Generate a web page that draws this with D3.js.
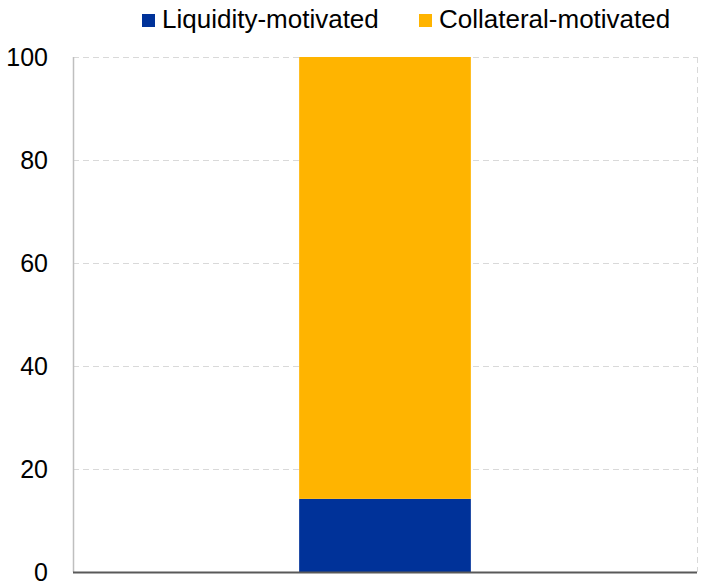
<!DOCTYPE html>
<html><head><meta charset="utf-8">
<script src="https://cdn.jsdelivr.net/npm/d3@7"></script>
<style>body{margin:0;background:#fff}svg{display:block}</style>
</head><body>
<script>
const categories = [""];
const seriesNames = ["Liquidity-motivated", "Collateral-motivated"];
const liquidity = [14.2];
const collateral = [85.8];
const yTicks = [0, 20, 40, 60, 80, 100];
const colors = ["#003299", "#FFB400"];

const W = 702, H = 585;
const m = {left: 73, right: 5, top: 57, bottom: 13};
const svg = d3.select("body").append("svg").attr("width", W).attr("height", H);
const font = "Arial, 'Liberation Sans', sans-serif";

const x = d3.scaleBand().domain(categories).range([m.left, W - m.right]).paddingInner(0).paddingOuter(1.317);
const y = d3.scaleLinear().domain([0, 100]).range([H - m.bottom, m.top]);

// gridlines
svg.append("g").selectAll("line").data(yTicks.filter(d => d > 0)).join("line")
  .attr("x1", m.left).attr("x2", W - m.right)
  .attr("y1", d => y(d) + 0.5).attr("y2", d => y(d) + 0.5)
  .attr("stroke", "#d9d9d9").attr("stroke-width", 1).attr("stroke-dasharray", "6,4");
// right dashed border
svg.append("line").attr("x1", W - m.right + 0.5).attr("x2", W - m.right + 0.5)
  .attr("y1", y(100)).attr("y2", y(0))
  .attr("stroke", "#d9d9d9").attr("stroke-dasharray", "6,4");

// stacked data
const rows = categories.map((c, i) => ({cat: c, "Liquidity-motivated": liquidity[i], "Collateral-motivated": collateral[i]}));
const stack = d3.stack().keys(seriesNames)(rows);
svg.append("g").selectAll("g").data(stack).join("g").attr("fill", (d, i) => colors[i])
  .selectAll("rect").data(d => d).join("rect")
  .attr("x", d => x(d.data.cat)).attr("width", x.bandwidth())
  .attr("y", d => y(d[1])).attr("height", d => y(d[0]) - y(d[1]));

// left axis line
svg.append("line").attr("x1", m.left + 0.5).attr("x2", m.left + 0.5)
  .attr("y1", y(100)).attr("y2", y(0)).attr("stroke", "#bfbfbf").attr("stroke-width", 1.5);
// bottom axis line
svg.append("line").attr("x1", m.left).attr("x2", W - m.right)
  .attr("y1", y(0) + 0.5).attr("y2", y(0) + 0.5).attr("stroke", "#595959").attr("stroke-width", 2);

// y tick labels
const yAxis = d3.axisLeft(y).tickValues(yTicks).tickSize(0).tickPadding(25);
const ga = svg.append("g").attr("transform", `translate(${m.left},0)`).call(yAxis);
ga.select(".domain").remove();
ga.selectAll("text").attr("font-family", font).attr("font-size", 25).attr("fill", "#000");

// legend
const legend = [{name: seriesNames[0], x: 142, c: colors[0]}, {name: seriesNames[1], x: 419, c: colors[1]}];
const lg = svg.append("g").selectAll("g").data(legend).join("g").attr("transform", d => `translate(${d.x},0)`);
lg.append("rect").attr("y", 14).attr("width", 13).attr("height", 13).attr("fill", d => d.c);
lg.append("text").attr("x", 20).attr("y", 28).text(d => d.name)
  .attr("font-family", font).attr("font-size", 26).attr("fill", "#000");
</script>
</body></html>
